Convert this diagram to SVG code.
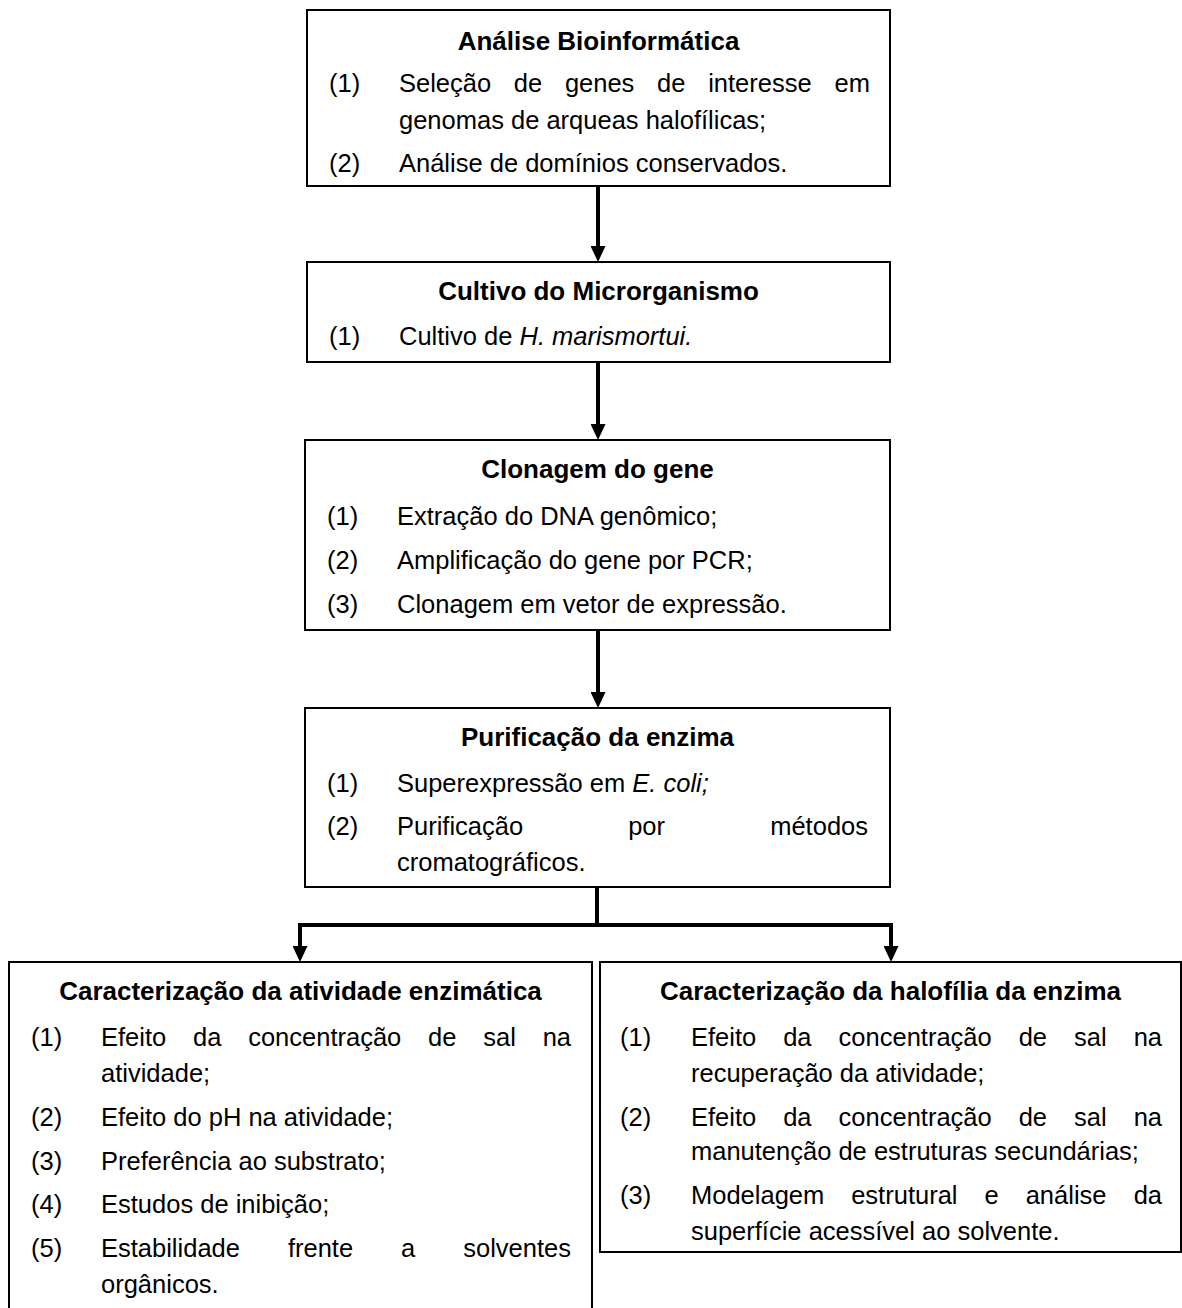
<svg xmlns="http://www.w3.org/2000/svg" width="1182" height="1308" viewBox="0 0 1182 1308">
<style>
text{font-family:"Liberation Sans",Arial,sans-serif;font-size:25.5px;fill:#000}
.t{font-weight:bold;font-size:26px;text-anchor:middle}
.e{text-anchor:end}
.i{font-style:italic}
.box{fill:#fff;stroke:#000;stroke-width:2}
.c{fill:none;stroke:#000;stroke-width:4}
</style>
<defs>
<marker id="ah" viewBox="0 0 16 15" refX="0" refY="7.5" markerWidth="16" markerHeight="15" orient="auto" markerUnits="userSpaceOnUse">
<path d="M0,0 L16,7.5 L0,15 z" fill="#000"/>
</marker>
</defs>
<rect width="1182" height="1308" fill="#fff"/>
<g id="connectors">
<path class="c" d="M598,187 V246" marker-end="url(#ah)"/>
<path class="c" d="M598,363 V424" marker-end="url(#ah)"/>
<path class="c" d="M598,631 V692" marker-end="url(#ah)"/>
<path class="c" d="M597,888 V925"/>
<path class="c" d="M300,946 V925 H891 V946" marker-end="url(#ah)"/>
<path class="c" d="M300,925 V946" marker-end="url(#ah)"/>
</g>
<g id="node1">
<rect class="box" x="307" y="10" width="583" height="176"/>
<text class="t" x="598.5" y="50">Análise Bioinformática</text>
<text x="329" y="92">(1)</text>
<text x="399" y="92">Seleção</text>
<text x="513.8" y="92">de</text>
<text x="564.9" y="92">genes</text>
<text x="657.1" y="92">de</text>
<text x="708.2" y="92">interesse</text>
<text class="e" x="870" y="92">em</text>
<text x="399" y="129">genomas de arqueas halofílicas;</text>
<text x="329" y="172">(2)</text>
<text x="399" y="172">Análise de domínios conservados.</text>
</g>
<g id="node2">
<rect class="box" x="307" y="262" width="583" height="100"/>
<text class="t" x="598.5" y="300">Cultivo do Microrganismo</text>
<text x="329" y="345">(1)</text>
<text x="399" y="345">Cultivo de <tspan class="i">H. marismortui.</tspan></text>
</g>
<g id="node3">
<rect class="box" x="305" y="440" width="585" height="190"/>
<text class="t" x="597.5" y="478">Clonagem do gene</text>
<text x="327" y="525">(1)</text>
<text x="397" y="525">Extração do DNA genômico;</text>
<text x="327" y="569">(2)</text>
<text x="397" y="569">Amplificação do gene por PCR;</text>
<text x="327" y="613">(3)</text>
<text x="397" y="613">Clonagem em vetor de expressão.</text>
</g>
<g id="node4">
<rect class="box" x="305" y="708" width="585" height="179"/>
<text class="t" x="597.5" y="746">Purificação da enzima</text>
<text x="327" y="792">(1)</text>
<text x="397" y="792">Superexpressão em <tspan class="i">E. coli;</tspan></text>
<text x="327" y="835">(2)</text>
<text x="397" y="835">Purificação</text>
<text x="628.2" y="835">por</text>
<text class="e" x="868" y="835">métodos</text>
<text x="397" y="871">cromatográficos.</text>
</g>
<g id="node5">
<path class="box" d="M9,1320 V962 H592 V1320"/>
<text class="t" x="300.5" y="1000">Caracterização da atividade enzimática</text>
<text x="31" y="1046">(1)</text>
<text x="101" y="1046">Efeito</text>
<text x="193" y="1046">da</text>
<text x="248.2" y="1046">concentração</text>
<text x="428.1" y="1046">de</text>
<text x="483.3" y="1046">sal</text>
<text class="e" x="571" y="1046">na</text>
<text x="101" y="1082">atividade;</text>
<text x="31" y="1126">(2)</text>
<text x="101" y="1126">Efeito do pH na atividade;</text>
<text x="31" y="1170">(3)</text>
<text x="101" y="1170">Preferência ao substrato;</text>
<text x="31" y="1213">(4)</text>
<text x="101" y="1213">Estudos de inibição;</text>
<text x="31" y="1257">(5)</text>
<text x="101" y="1257">Estabilidade</text>
<text x="287.9" y="1257">frente</text>
<text x="401.1" y="1257">a</text>
<text class="e" x="571" y="1257">solventes</text>
<text x="101" y="1293">orgânicos.</text>
</g>
<g id="node6">
<rect class="box" x="600" y="962" width="581" height="290"/>
<text class="t" x="890.5" y="1000">Caracterização da halofília da enzima</text>
<text x="620" y="1046">(1)</text>
<text x="691" y="1046">Efeito</text>
<text x="783.2" y="1046">da</text>
<text x="838.6" y="1046">concentração</text>
<text x="1018.7" y="1046">de</text>
<text x="1074.1" y="1046">sal</text>
<text class="e" x="1162" y="1046">na</text>
<text x="691" y="1082">recuperação da atividade;</text>
<text x="620" y="1126">(2)</text>
<text x="691" y="1126">Efeito</text>
<text x="783.2" y="1126">da</text>
<text x="838.6" y="1126">concentração</text>
<text x="1018.7" y="1126">de</text>
<text x="1074.1" y="1126">sal</text>
<text class="e" x="1162" y="1126">na</text>
<text x="691" y="1160">manutenção de estruturas secundárias;</text>
<text x="620" y="1204">(3)</text>
<text x="691" y="1204">Modelagem</text>
<text x="851.2" y="1204">estrutural</text>
<text x="984.5" y="1204">e</text>
<text x="1025.7" y="1204">análise</text>
<text class="e" x="1162" y="1204">da</text>
<text x="691" y="1240">superfície acessível ao solvente.</text>
</g>
</svg>
